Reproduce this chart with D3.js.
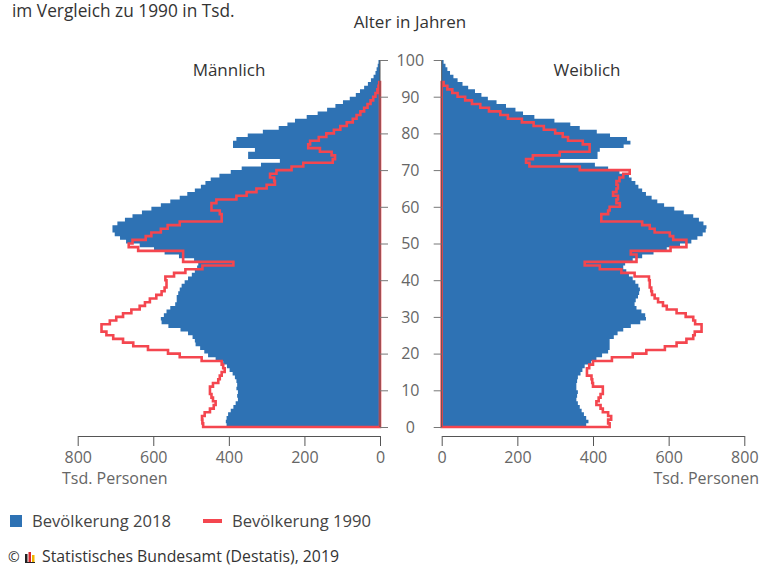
<!DOCTYPE html>
<html>
<head>
<meta charset="utf-8">
<script src="https://cdn.jsdelivr.net/npm/d3@7"></script>
<style>
  body { margin: 0; background: #fff; }
  svg { display: block; font-family: "Open Sans", "Noto Sans", sans-serif; }
</style>
</head>
<body>
<div id="chart"></div>
<script>
// Bevölkerung nach Alter (0..99), in Tsd.
const male2018 = [406, 408, 406, 402, 395, 388, 382, 376, 378, 376,
  380, 378, 380, 384, 390, 398, 405, 415, 435, 455,
  465, 476, 488, 490, 496, 508, 528, 560, 578, 580,
  572, 565, 555, 542, 538, 538, 534, 530, 525, 517,
  508, 498, 490, 484, 481, 492, 532, 570, 598, 636,
  672, 688, 702, 708, 708, 695, 675, 655, 630, 605,
  580, 555, 530, 510, 490, 474, 462, 448, 425, 395,
  366, 315, 265, 349, 349, 331, 389, 389, 380, 350,
  310, 268, 245, 225, 194, 165, 140, 118, 98, 80,
  64, 53, 42, 32, 24, 17, 12, 9, 6, 4];
const female2018 = [382, 388, 382, 376, 370, 365, 360, 356, 358, 360,
  356, 356, 358, 360, 367, 372, 378, 395, 409, 424,
  440, 444, 444, 444, 455, 465, 480, 500, 525, 540,
  538, 528, 515, 510, 513, 519, 522, 524, 520, 512,
  505, 495, 488, 480, 485, 505, 530, 560, 595, 630,
  660, 676, 690, 698, 700, 692, 680, 665, 640, 615,
  588, 570, 555, 540, 530, 520, 512, 502, 495, 470,
  440, 405, 313, 412, 412, 418, 481, 499, 490, 445,
  410, 365, 340, 298, 245, 215, 195, 170, 145, 122,
  105, 88, 70, 55, 42, 31, 22, 15, 10, 5];
const male1990 = [468, 470, 471, 464, 450, 440, 435, 442, 446, 450,
  450, 442, 428, 424, 419, 411, 415, 419, 472, 530,
  561, 614, 653, 680, 706, 724, 737, 737, 715, 698,
  680, 658, 636, 622, 609, 592, 578, 570, 565, 565,
  568, 545, 515, 470, 388, 521, 521, 521, 640, 665,
  655, 620, 605, 580, 562, 530, 419, 419, 424, 446,
  446, 433, 380, 353, 327, 300, 278, 280, 291, 274,
  234, 203, 125, 119, 128, 159, 190, 185, 162, 142,
  122, 105, 88, 72, 62, 52, 42, 33, 25, 18,
  12, 7, 4, 2];
const female1990 = [444, 440, 448, 440, 426, 420, 409, 415, 420, 426,
  426, 400, 398, 396, 384, 384, 390, 400, 450, 505,
  541, 590, 621, 647, 665, 669, 687, 687, 670, 665,
  645, 621, 595, 585, 572, 563, 556, 554, 550, 550,
  548, 510, 475, 418, 378, 515, 515, 500, 605, 647,
  647, 612, 603, 563, 550, 530, 422, 422, 440, 444,
  471, 462, 466, 453, 462, 466, 462, 470, 480, 497,
  365, 232, 223, 241, 312, 391, 391, 373, 334, 320,
  300, 270, 243, 212, 175, 155, 125, 102, 80, 62,
  42, 28, 15, 5];
const xTicks = [0, 200, 400, 600, 800];
const ageTicks = [0, 10, 20, 30, 40, 50, 60, 70, 80, 90, 100];

const BLUE = "#2e72b4";
const RED = "#f4464f";
const width = 763, height = 567;

let svg = d3.select("#chart").append("svg").attr("width", width).attr("height", height);

let y = d3.scaleLinear().domain([0, 100]).range([427, 60]);
let xL = d3.scaleLinear().domain([0, 800]).range([380, 77.7]);
let xR = d3.scaleLinear().domain([0, 800]).range([441.7, 744.3]);

// Stufen: Wert v[a] gilt von Alter a bis a+1
function steps(values) {
  let pts = values.map((v, a) => ({ age: a, v: v }));
  pts.push({ age: values.length, v: 0 });
  return pts;
}

function drawSide(x, v2018, v1990) {
  let area = d3.area().curve(d3.curveStepBefore)
    .y(d => y(d.age)).x0(x(0)).x1(d => x(d.v));
  svg.append("path").datum(steps(v2018)).attr("d", area).attr("fill", BLUE);

  let pts = [{ age: 0, v: 0 }].concat(steps(v1990));
  let line = d3.line().curve(d3.curveStepBefore).y(d => y(d.age)).x(d => x(d.v));
  svg.append("path").attr("d", line(pts) + "Z")
    .attr("fill", "none").attr("stroke", RED).attr("stroke-width", 2.6)
    .attr("stroke-linejoin", "miter");
}

drawSide(xL, male2018, male1990);
drawSide(xR, female2018, female1990);

// Altersachse in der Mitte
let axL = svg.append("g").attr("transform", `translate(${xL(0)},0)`)
  .call(d3.axisRight(y).tickValues(ageTicks).tickSize(8).tickFormat(""));
let axR = svg.append("g").attr("transform", `translate(${xR(0)},0)`)
  .call(d3.axisLeft(y).tickValues(ageTicks).tickSize(8).tickFormat(""));
[axL, axR].forEach(g => {
  g.select(".domain").attr("stroke", "#555").attr("d", `M0,${y(100)}V${y(0)}`);
  g.selectAll(".tick line").attr("stroke", "#777");
});

svg.append("g").selectAll("text").data(ageTicks).join("text")
  .attr("x", (xL(0) + xR(0)) / 2 - 0.5)
  .attr("y", d => y(d) + 5.8)
  .attr("text-anchor", "middle")
  .attr("font-size", "16px").attr("fill", "#666")
  .text(d => d);

// Untere Achsen
function bottomAxis(x) {
  let g = svg.append("g").attr("transform", "translate(0,436)")
    .call(d3.axisBottom(x).tickValues(xTicks).tickSize(10).tickPadding(6).tickSizeOuter(0));
  g.select(".domain").attr("stroke", "#555");
  g.selectAll(".tick line").attr("stroke", "#555");
  g.selectAll(".tick text").attr("font-size", "16px").attr("fill", "#666")
    .attr("font-family", "'Open Sans', sans-serif");
}
bottomAxis(xL);
bottomAxis(xR);

svg.append("text").attr("x", 62).attr("y", 484).attr("font-size", "16px").attr("fill", "#666")
  .text("Tsd. Personen");
svg.append("text").attr("x", 759).attr("y", 484).attr("text-anchor", "end")
  .attr("font-size", "16px").attr("fill", "#666").text("Tsd. Personen");

// Titel
svg.append("text").attr("x", 12).attr("y", 17).attr("font-size", "17.3px").attr("fill", "#333")
  .text("im Vergleich zu 1990 in Tsd.");
svg.append("text").attr("x", 410).attr("y", 28).attr("text-anchor", "middle")
  .attr("font-size", "17px").attr("fill", "#333").text("Alter in Jahren");
svg.append("text").attr("x", 229).attr("y", 76).attr("text-anchor", "middle")
  .attr("font-size", "17px").attr("fill", "#333").text("Männlich");
svg.append("text").attr("x", 587).attr("y", 76).attr("text-anchor", "middle")
  .attr("font-size", "17px").attr("fill", "#333").text("Weiblich");

// Legende
svg.append("rect").attr("x", 10).attr("y", 515).attr("width", 12).attr("height", 12).attr("fill", BLUE);
svg.append("text").attr("x", 32).attr("y", 527).attr("font-size", "16.6px").attr("fill", "#444")
  .text("Bevölkerung 2018");
svg.append("line").attr("x1", 203).attr("x2", 222).attr("y1", 521).attr("y2", 521)
  .attr("stroke", RED).attr("stroke-width", 4);
svg.append("text").attr("x", 232).attr("y", 527).attr("font-size", "16.6px").attr("fill", "#444")
  .text("Bevölkerung 1990");

// Quelle
svg.append("text").attr("x", 8).attr("y", 562).attr("font-size", "14px").attr("fill", "#333").text("©");
let logo = svg.append("g").attr("transform", "translate(25,552)");
logo.append("rect").attr("x", 0).attr("y", 2).attr("width", 2.5).attr("height", 8).attr("fill", "#222");
logo.append("rect").attr("x", 3.5).attr("y", 0).attr("width", 2.5).attr("height", 10).attr("fill", "#d8242b");
logo.append("rect").attr("x", 7).attr("y", 3).attr("width", 2.5).attr("height", 7).attr("fill", "#f0b400");
logo.append("rect").attr("x", 0).attr("y", 10).attr("width", 10).attr("height", 1).attr("fill", "#222");
svg.append("text").attr("x", 42).attr("y", 562).attr("font-size", "15.8px").attr("fill", "#333")
  .text("Statistisches Bundesamt (Destatis), 2019");
</script>
</body>
</html>
